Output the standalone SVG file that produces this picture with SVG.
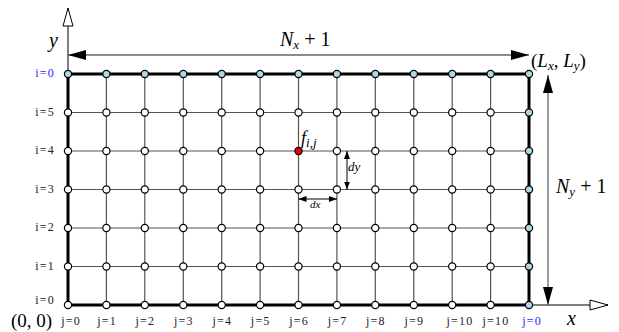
<svg xmlns="http://www.w3.org/2000/svg" width="619" height="332" viewBox="0 0 619 332">
<style>
.grid{stroke:#555;stroke-width:1.2;fill:none}
.bd{stroke:#000;stroke-width:3;fill:none}
.nd{fill:#fff;stroke:#000;stroke-width:1.2}
.nb{fill:#add8e6;stroke:#000;stroke-width:1.2}
.nr{fill:#e00;stroke:#000;stroke-width:1.2}
.ax{stroke:#000;stroke-width:1;fill:none}
.dim{stroke:#666;stroke-width:1.3;fill:none}
.lab{font-family:"Liberation Serif","DejaVu Serif",serif;font-size:12px;letter-spacing:1.2px;fill:#222}
.blue{fill:#2a2aff}
.math{font-family:"Liberation Serif","DejaVu Serif",serif;font-style:italic;font-size:20px;fill:#000}
.rm{font-family:"Liberation Serif","DejaVu Serif",serif;font-style:normal;font-size:20px;fill:#000}
.sm{font-family:"Liberation Serif","DejaVu Serif",serif;font-style:italic;font-size:13px;fill:#000}
</style>
<defs>
<marker id="fa" viewBox="0 0 18 10" refX="18" refY="5" markerWidth="18" markerHeight="10" markerUnits="userSpaceOnUse" orient="auto-start-reverse"><path d="M0,0 L18,5 L0,10 Z" fill="#000"/></marker>
<marker id="ha" viewBox="0 0 20 12" refX="19" refY="6" markerWidth="20" markerHeight="12" markerUnits="userSpaceOnUse" orient="auto"><path d="M1,1 L19,6 L1,11 Z" fill="#fff" stroke="#000" stroke-width="1"/></marker>
<marker id="sa" viewBox="0 0 8 6" refX="8" refY="3" markerWidth="8" markerHeight="6" markerUnits="userSpaceOnUse" orient="auto-start-reverse"><path d="M0,0 L8,3 L0,6 Z" fill="#000"/></marker>
</defs>
<g id="connectors">
<g id="grid-lines">
<path class="grid" d="M106.4,74V305M144.8,74V305M183.3,74V305M221.7,74V305M260.1,74V305M298.5,74V305M336.9,74V305M375.3,74V305M413.8,74V305M452.2,74V305M490.6,74V305"/>
<path class="grid" d="M68,112.5H529M68,151H529M68,189.5H529M68,228H529M68,266.5H529"/>
</g>
<path id="y-axis" class="ax" d="M68,305V8" marker-end="url(#ha)"/>
<path id="x-axis" class="ax" d="M68,305H608" marker-end="url(#ha)"/>
<rect id="boundary" class="bd" x="68" y="74" width="461" height="231"/>
<path id="nx-dim" class="dim" d="M68,55H529" marker-start="url(#fa)" marker-end="url(#fa)"/>
<path id="ny-dim" class="dim" d="M548,75V305" marker-start="url(#fa)" marker-end="url(#fa)"/>
<path id="dy-dim" class="ax" d="M347,151V189.5" marker-start="url(#sa)" marker-end="url(#sa)"/>
<path id="dx-dim" class="ax" d="M298.5,199H336.9" marker-start="url(#sa)" marker-end="url(#sa)"/>
</g>
<g id="nodes">
<g id="row-top">
<circle class="nb" cx="68" cy="74" r="3.6"/><circle class="nb" cx="106.4" cy="74" r="3.6"/><circle class="nb" cx="144.8" cy="74" r="3.6"/><circle class="nb" cx="183.3" cy="74" r="3.6"/><circle class="nb" cx="221.7" cy="74" r="3.6"/><circle class="nb" cx="260.1" cy="74" r="3.6"/><circle class="nb" cx="298.5" cy="74" r="3.6"/><circle class="nb" cx="336.9" cy="74" r="3.6"/><circle class="nb" cx="375.3" cy="74" r="3.6"/><circle class="nb" cx="413.8" cy="74" r="3.6"/><circle class="nb" cx="452.2" cy="74" r="3.6"/><circle class="nb" cx="490.6" cy="74" r="3.6"/><circle class="nb" cx="529" cy="74" r="3.6"/>
</g>
<g id="row-5">
<circle class="nd" cx="68" cy="112.5" r="3.6"/><circle class="nd" cx="106.4" cy="112.5" r="3.6"/><circle class="nd" cx="144.8" cy="112.5" r="3.6"/><circle class="nd" cx="183.3" cy="112.5" r="3.6"/><circle class="nd" cx="221.7" cy="112.5" r="3.6"/><circle class="nd" cx="260.1" cy="112.5" r="3.6"/><circle class="nd" cx="298.5" cy="112.5" r="3.6"/><circle class="nd" cx="336.9" cy="112.5" r="3.6"/><circle class="nd" cx="375.3" cy="112.5" r="3.6"/><circle class="nd" cx="413.8" cy="112.5" r="3.6"/><circle class="nd" cx="452.2" cy="112.5" r="3.6"/><circle class="nd" cx="490.6" cy="112.5" r="3.6"/><circle class="nb" cx="529" cy="112.5" r="3.6"/>
</g>
<g id="row-4">
<circle class="nd" cx="68" cy="151" r="3.6"/><circle class="nd" cx="106.4" cy="151" r="3.6"/><circle class="nd" cx="144.8" cy="151" r="3.6"/><circle class="nd" cx="183.3" cy="151" r="3.6"/><circle class="nd" cx="221.7" cy="151" r="3.6"/><circle class="nd" cx="260.1" cy="151" r="3.6"/><circle id="f-ij" class="nr" cx="298.5" cy="151" r="3.6"/><circle class="nd" cx="336.9" cy="151" r="3.6"/><circle class="nd" cx="375.3" cy="151" r="3.6"/><circle class="nd" cx="413.8" cy="151" r="3.6"/><circle class="nd" cx="452.2" cy="151" r="3.6"/><circle class="nd" cx="490.6" cy="151" r="3.6"/><circle class="nb" cx="529" cy="151" r="3.6"/>
</g>
<g id="row-3">
<circle class="nd" cx="68" cy="189.5" r="3.6"/><circle class="nd" cx="106.4" cy="189.5" r="3.6"/><circle class="nd" cx="144.8" cy="189.5" r="3.6"/><circle class="nd" cx="183.3" cy="189.5" r="3.6"/><circle class="nd" cx="221.7" cy="189.5" r="3.6"/><circle class="nd" cx="260.1" cy="189.5" r="3.6"/><circle class="nd" cx="298.5" cy="189.5" r="3.6"/><circle class="nd" cx="336.9" cy="189.5" r="3.6"/><circle class="nd" cx="375.3" cy="189.5" r="3.6"/><circle class="nd" cx="413.8" cy="189.5" r="3.6"/><circle class="nd" cx="452.2" cy="189.5" r="3.6"/><circle class="nd" cx="490.6" cy="189.5" r="3.6"/><circle class="nb" cx="529" cy="189.5" r="3.6"/>
</g>
<g id="row-2">
<circle class="nd" cx="68" cy="228" r="3.6"/><circle class="nd" cx="106.4" cy="228" r="3.6"/><circle class="nd" cx="144.8" cy="228" r="3.6"/><circle class="nd" cx="183.3" cy="228" r="3.6"/><circle class="nd" cx="221.7" cy="228" r="3.6"/><circle class="nd" cx="260.1" cy="228" r="3.6"/><circle class="nd" cx="298.5" cy="228" r="3.6"/><circle class="nd" cx="336.9" cy="228" r="3.6"/><circle class="nd" cx="375.3" cy="228" r="3.6"/><circle class="nd" cx="413.8" cy="228" r="3.6"/><circle class="nd" cx="452.2" cy="228" r="3.6"/><circle class="nd" cx="490.6" cy="228" r="3.6"/><circle class="nb" cx="529" cy="228" r="3.6"/>
</g>
<g id="row-1">
<circle class="nd" cx="68" cy="266.5" r="3.6"/><circle class="nd" cx="106.4" cy="266.5" r="3.6"/><circle class="nd" cx="144.8" cy="266.5" r="3.6"/><circle class="nd" cx="183.3" cy="266.5" r="3.6"/><circle class="nd" cx="221.7" cy="266.5" r="3.6"/><circle class="nd" cx="260.1" cy="266.5" r="3.6"/><circle class="nd" cx="298.5" cy="266.5" r="3.6"/><circle class="nd" cx="336.9" cy="266.5" r="3.6"/><circle class="nd" cx="375.3" cy="266.5" r="3.6"/><circle class="nd" cx="413.8" cy="266.5" r="3.6"/><circle class="nd" cx="452.2" cy="266.5" r="3.6"/><circle class="nd" cx="490.6" cy="266.5" r="3.6"/><circle class="nb" cx="529" cy="266.5" r="3.6"/>
</g>
<g id="row-bottom">
<circle class="nd" cx="68" cy="305" r="3.6"/><circle class="nd" cx="106.4" cy="305" r="3.6"/><circle class="nd" cx="144.8" cy="305" r="3.6"/><circle class="nd" cx="183.3" cy="305" r="3.6"/><circle class="nd" cx="221.7" cy="305" r="3.6"/><circle class="nd" cx="260.1" cy="305" r="3.6"/><circle class="nd" cx="298.5" cy="305" r="3.6"/><circle class="nd" cx="336.9" cy="305" r="3.6"/><circle class="nd" cx="375.3" cy="305" r="3.6"/><circle class="nd" cx="413.8" cy="305" r="3.6"/><circle class="nd" cx="452.2" cy="305" r="3.6"/><circle class="nd" cx="490.6" cy="305" r="3.6"/><circle class="nb" cx="529" cy="305" r="3.6"/>
</g>
</g>
<g id="row-labels" class="lab" text-anchor="end">
<text x="55" y="77" class="lab blue">i=0</text>
<text x="55" y="115.5">i=5</text>
<text x="55" y="154">i=4</text>
<text x="55" y="192.5">i=3</text>
<text x="55" y="231">i=2</text>
<text x="55" y="269.5">i=1</text>
<text x="55" y="304">i=0</text>
</g>
<g id="col-labels" class="lab" text-anchor="middle">
<text x="71" y="325">j=0</text>
<text x="107" y="325">j=1</text>
<text x="145.4" y="325">j=2</text>
<text x="183.9" y="325">j=3</text>
<text x="222.3" y="325">j=4</text>
<text x="260.7" y="325">j=5</text>
<text x="299.1" y="325">j=6</text>
<text x="337.5" y="325">j=7</text>
<text x="375.9" y="325">j=8</text>
<text x="414.4" y="325">j=9</text>
<text x="460" y="325">j=10</text>
<text x="496" y="325">j=10</text>
<text x="532" y="325" class="lab blue">j=0</text>
</g>
<g id="math-labels">
<text x="11" y="327" class="rm" style="font-size:19px">(0, 0)</text>
<text x="49" y="47" class="math">y</text>
<text x="567" y="325" class="math">x</text>
<text x="280" y="46" class="math">N<tspan class="sm" dy="3">x</tspan><tspan class="rm" dy="-3"> + 1</tspan></text>
<text x="556" y="193" class="math">N<tspan class="sm" dy="3">y</tspan><tspan class="rm" dy="-3"> + 1</tspan></text>
<text x="531" y="67" class="rm" style="font-size:19px">(<tspan class="math" style="font-size:19px">L</tspan><tspan class="sm" dy="3">x</tspan><tspan dy="-3">, </tspan><tspan class="math" style="font-size:19px">L</tspan><tspan class="sm" dy="3">y</tspan><tspan dy="-3">)</tspan></text>
<text x="301" y="144" class="math" style="font-size:18px">f<tspan class="sm" dy="3">i,j</tspan></text>
<text x="348" y="171" class="sm">dy</text>
<text x="310" y="208" class="sm" style="font-size:11px">dx</text>
</g>
</svg>
